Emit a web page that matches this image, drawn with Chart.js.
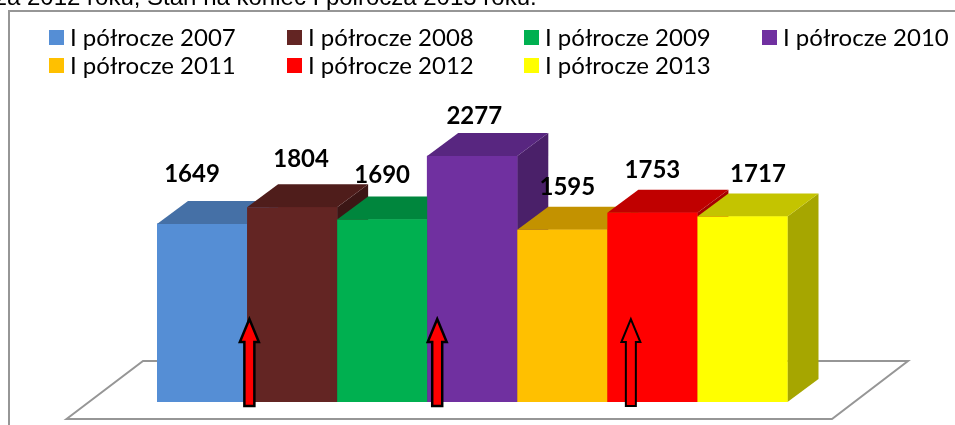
<!DOCTYPE html>
<html><head><meta charset="utf-8">
<style>html,body{margin:0;padding:0;background:#fff;overflow:hidden}#w{position:relative;width:955px;height:425px}</style>
<script src="https://cdn.jsdelivr.net/npm/chart.js@4"></script>
</head><body><div id="w"><canvas id="c" width="955" height="425"></canvas></div>
<script>
const categories = ['I półrocze'];
const seriesNames = ['I półrocze 2007','I półrocze 2008','I półrocze 2009','I półrocze 2010','I półrocze 2011','I półrocze 2012','I półrocze 2013'];
const seriesValues = [1649,1804,1690,2277,1595,1753,1717];
const frontColors = ['#558ED5','#632523','#00B050','#7030A0','#FFC000','#FF0000','#FFFF00'];
const topColors = ['#4570A6','#4F1D1B','#00863D','#582680','#C39200','#C00000','#C4C400'];
const sideColors = ['#35557F','#3C1615','#006A30','#4A2069','#A67C00','#A60000','#A6A600'];
const caption = 'za 2012 roku, Stan na koniec I półrocza 2013 roku.';
const labelShiftX = [-10,9,0,2,5,0,15.5];
const labelShiftY = [-49.4,-48,-44.5,-40,-42.7,-42.7,-42.6];
const legendColumns = [49,287,524,762];
const legendRows = [30,58];
const arrowBar = [1,3,5];
const arrowShift = [2.3,10,23.5];
const arrowOutline = [2.5,2.5,2];
const DEPTH_X = 31, DEPTH_Y = 23, FRAME = '#969696';

const scene = {
  id:'scene',
  beforeDatasetsDraw(chart){
    const {ctx,chartArea:a,scales:{y}} = chart, b = y.getPixelForValue(0);
    ctx.save();
    ctx.strokeStyle = FRAME; ctx.lineWidth = 2;
    ctx.beginPath(); ctx.moveTo(9,425); ctx.lineTo(9,11); ctx.lineTo(955,11); ctx.stroke();
    ctx.beginPath();
    ctx.moveTo(a.left-90.5,b+17); ctx.lineTo(a.left-14,b-41); ctx.lineTo(a.right+120.5,b-41); ctx.lineTo(a.right+44.5,b+17); ctx.closePath();
    ctx.stroke();
    ctx.fillStyle='#000'; ctx.font='24px "Liberation Sans"'; ctx.textBaseline='alphabetic'; ctx.textAlign='left';
    ctx.fillText(caption,-5,5);
    seriesNames.forEach((name,i)=>{
      const x = legendColumns[i%4], t = legendRows[Math.floor(i/4)];
      ctx.fillStyle = frontColors[i]; ctx.fillRect(x,t,15,15);
      ctx.fillStyle = '#000'; ctx.font = '24px Lato'; ctx.textBaseline='middle';
      ctx.fillText(name,x+21,t+8);
    });
    ctx.restore();
  },
  afterDatasetsDraw(chart){
    const {ctx,scales:{y}} = chart;
    const bars = seriesValues.map((_,i)=>chart.getDatasetMeta(i).data[0]);
    const poly = (c,p)=>{ctx.fillStyle=c;ctx.beginPath();p.forEach((q,i)=>i?ctx.lineTo(q[0],q[1]):ctx.moveTo(q[0],q[1]));ctx.closePath();ctx.fill();};
    ctx.save();
    bars.forEach((bar,i)=>{
      const l=bar.x-bar.width/2, r=bar.x+bar.width/2, t=bar.y, b=bar.base;
      poly(sideColors[i],[[r,t],[r+DEPTH_X,t-DEPTH_Y],[r+DEPTH_X,b-DEPTH_Y],[r,b]]);
      poly(topColors[i],[[l,t],[l+DEPTH_X,t-DEPTH_Y],[r+DEPTH_X,t-DEPTH_Y],[r,t]]);
      poly(frontColors[i],[[l,t],[r,t],[r,b],[l,b]]);
    });
    arrowBar.forEach((k,i)=>{
      const bar=bars[k], x=bar.x-bar.width/2+arrowShift[i], tip=y.getPixelForValue(768), neck=y.getPixelForValue(555), foot=y.getPixelForValue(-37);
      ctx.beginPath();
      ctx.moveTo(x,tip);ctx.lineTo(x+9.5,neck);ctx.lineTo(x+5,neck);ctx.lineTo(x+5,foot);ctx.lineTo(x-5,foot);ctx.lineTo(x-5,neck);ctx.lineTo(x-9.5,neck);ctx.closePath();
      ctx.fillStyle='#FF0000';ctx.fill();ctx.strokeStyle='#000';ctx.lineWidth=arrowOutline[i];ctx.stroke();
    });
    ctx.fillStyle='#000';ctx.font='bold 24px Lato';ctx.textAlign='center';ctx.textBaseline='middle';
    bars.forEach((bar,i)=>ctx.fillText(String(seriesValues[i]),bar.x+labelShiftX[i],bar.y+labelShiftY[i]));
    ctx.restore();
  }
};
new Chart(document.getElementById('c'),{
  type:'bar',
  data:{labels:categories,datasets:seriesNames.map((n,i)=>({label:n,data:[seriesValues[i]],backgroundColor:frontColors[i],borderWidth:0}))},
  options:{
    responsive:false,animation:false,
    layout:{padding:{left:157,right:167.5,top:78,bottom:23}},
    datasets:{bar:{categoryPercentage:1,barPercentage:1}},
    scales:{x:{display:false},y:{display:false,min:0,max:3000}},
    plugins:{legend:{display:false},tooltip:{enabled:false},title:{display:false}}
  },
  plugins:[scene]
});
</script></body></html>
